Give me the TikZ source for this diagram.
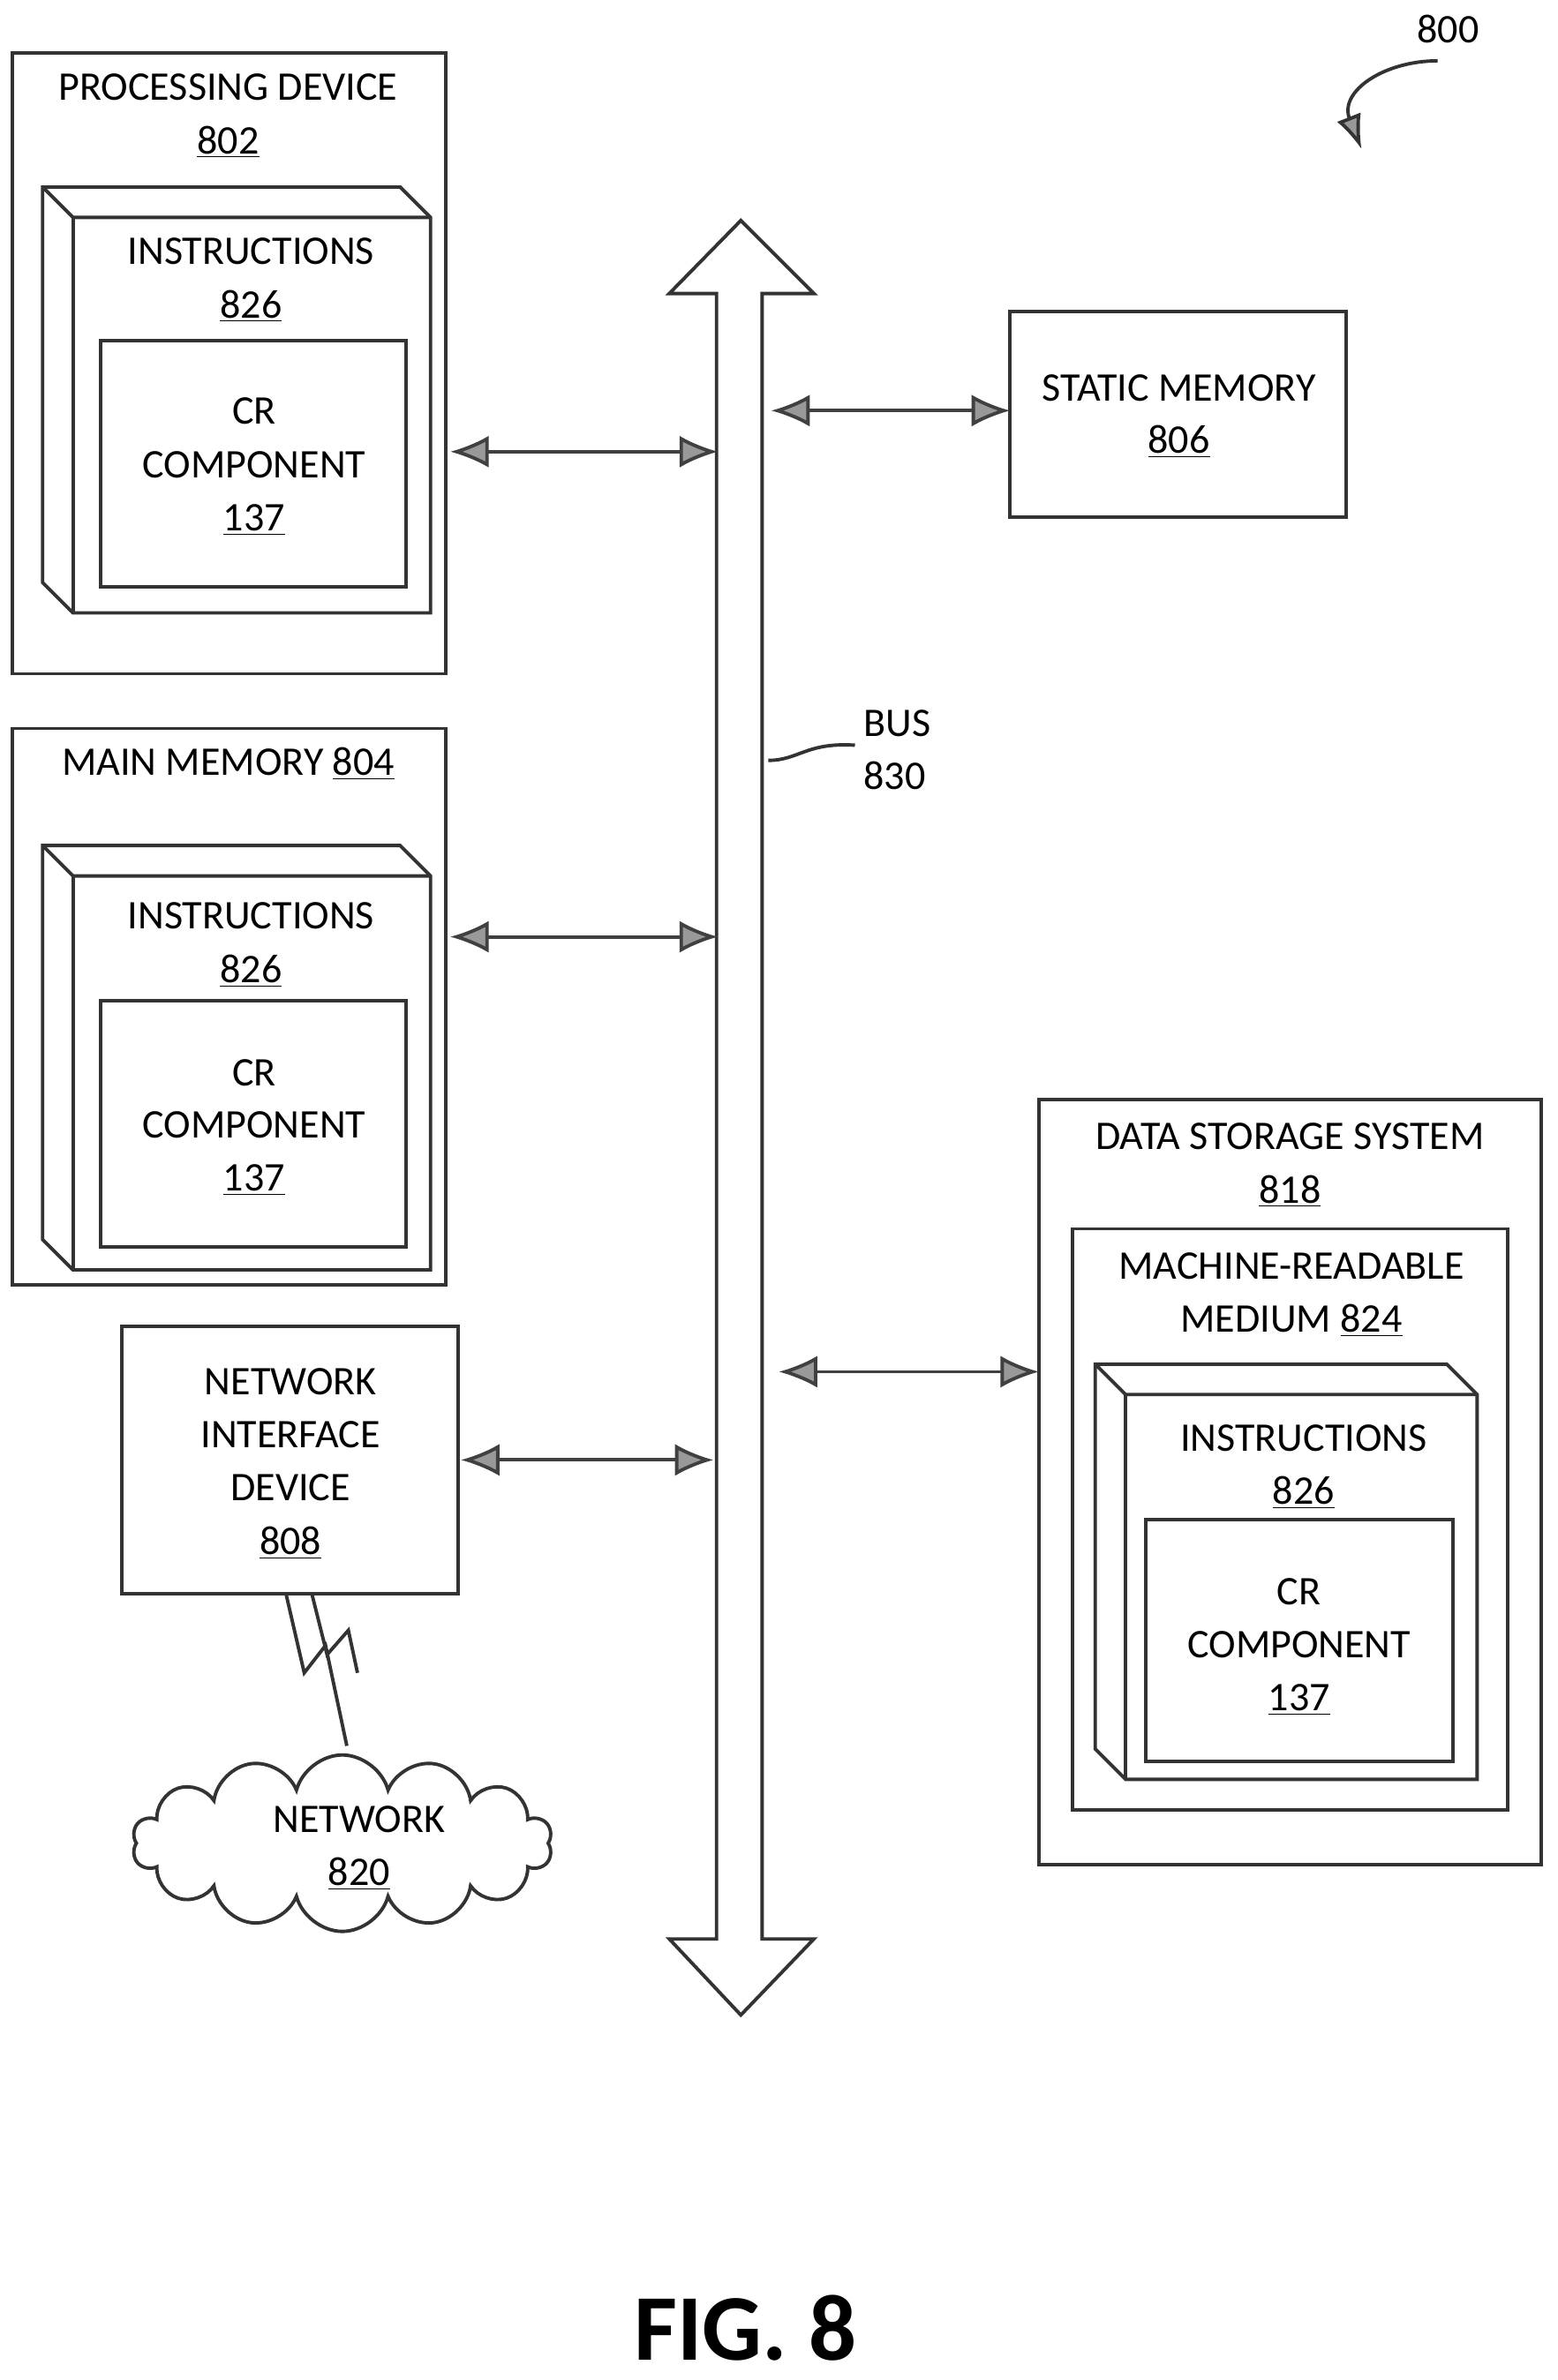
\documentclass[tikz,border=0pt]{standalone}
\usepackage{fontspec}
\setmainfont{Carlito}
\usetikzlibrary{arrows.meta,shapes.symbols}
\begin{document}
\begin{tikzpicture}[x=0.025cm,y=-0.025cm,
  box/.style={draw=black!80,line width=1.6pt},
  lbl/.style={font=\fontsize{19}{22}\selectfont,inner sep=0pt,anchor=base},
  conn/.style={line width=1.6pt,draw=black!75,{Latex[length=18pt,width=15pt,fill=black!40]}-{Latex[length=18pt,width=15pt,fill=black!40]}}]
\useasboundingbox (0,0) rectangle (1024,1565);
% processing device
\draw[box] (8,35) rectangle (293,443);
\node[lbl] (pdt) at (150,66) {PROCESSING DEVICE};
\node[lbl] (pdn) at (150,101) {\underline{802}};
\newcommand\cube[4]{% x1,y1,x2,y2 of whole
  \draw[box] (#1,#2) -- ({#3-20},#2) -- (#3,{#2+20}) -- (#3,#4) -- ({#1+20},#4) -- (#1,{#4-20}) -- cycle;
  \draw[box] (#1,#2) -- ({#1+20},{#2+20}) -- (#3,{#2+20});
  \draw[box] ({#1+20},{#2+20}) -- ({#1+20},#4);}
\cube{28}{123}{283}{403}
\node[lbl] at (165,174) {INSTRUCTIONS};
\node[lbl] at (165,209) {\underline{826}};
\draw[box] (66,224) rectangle (267,386);
\node[lbl] at (167,279) {CR};
\node[lbl] at (167,314) {COMPONENT};
\node[lbl] at (167,349) {\underline{137}};
% main memory
\draw[box] (8,479) rectangle (293,845);
\node[lbl] (mmt) at (150,510) {MAIN MEMORY \underline{804}};
\cube{28}{556}{283}{835}
\node[lbl] at (165,611) {INSTRUCTIONS};
\node[lbl] at (165,646) {\underline{826}};
\draw[box] (66,658) rectangle (267,820);
\node[lbl] at (167,714) {CR};
\node[lbl] at (167,748) {COMPONENT};
\node[lbl] at (167,783) {\underline{137}};
% network interface
\draw[box] (80,872) rectangle (301,1048);
\node[lbl] at (191,917) {NETWORK};
\node[lbl] at (191,952) {INTERFACE};
\node[lbl] at (191,987) {DEVICE};
\node[lbl] at (191,1022) {\underline{808}};
\draw[box,line join=miter] (188,1048) -- (200,1100) -- (214,1082) -- (228,1148);
\draw[box] (205,1048) -- (215,1088) -- (229,1072) -- (235,1100);
% cloud
\node[cloud,cloud puffs=14,aspect=2.4,draw=black!80,line width=1.6pt,fill=white,minimum width=6.9cm,minimum height=2.9cm] (net) at (225,1212) {};
\node[lbl] at (236,1205) {NETWORK};
\node[lbl] at (236,1240) {\underline{820}};
% bus
\draw[line width=1.6pt,draw=black!80,fill=white] (487,145) -- (535,193) -- (501,193) -- (501,1275) -- (535,1275) -- (487,1325) -- (440,1275) -- (471,1275) -- (471,193) -- (440,193) -- cycle;
\node[lbl] at (590,484) {BUS};
\node[lbl] at (588,519) {830};
\draw[line width=1.6pt,black!80] (505,500) .. controls (525,500) and (530,488) .. (562,490);
% static memory
\draw[box] (664,205) rectangle (885,340);
\node[lbl] at (775,264) {STATIC MEMORY};
\node[lbl] at (775,298) {\underline{806}};
% data storage
\draw[box] (683,723) rectangle (1013,1226);
\node[lbl] at (848,756) {DATA STORAGE SYSTEM};
\node[lbl] at (848,791) {\underline{818}};
\draw[box] (705,808) rectangle (991,1190);
\node[lbl] at (849,841) {MACHINE-READABLE};
\node[lbl] at (849,876) {MEDIUM \underline{824}};
\cube{720}{897}{971}{1170}
\node[lbl] at (857,954) {INSTRUCTIONS};
\node[lbl] at (857,989) {\underline{826}};
\draw[box] (753,999) rectangle (955,1158);
\node[lbl] at (854,1055) {CR};
\node[lbl] at (854,1090) {COMPONENT};
\node[lbl] at (854,1125) {\underline{137}};
% connectors
\coordinate (a1) at (296,297); \coordinate (b1) at (472,297);
\coordinate (a2) at (507,270); \coordinate (b2) at (664,270);
\coordinate (a3) at (296,616); \coordinate (b3) at (472,616);
\coordinate (a4) at (303,960); \coordinate (b4) at (469,960);
\coordinate (a5) at (512,902); \coordinate (b5) at (683,902);
\draw[conn] (a1) -- (b1);
\draw[conn] (a2) -- (b2);
\draw[conn] (a3) -- (b3);
\draw[conn] (a4) -- (b4);
\draw[conn] (a5) -- (b5);
% 800
\node[lbl] at (952,28) {800};
\coordinate (s1) at (945,40); \coordinate (s2) at (895,98);
\draw[line width=1.6pt,black!80,-{Latex[length=16pt,width=12pt,fill=black!40]}] (s1) .. controls (910,40) and (880,60) .. (s2);
\node[font=\bfseries\fontsize{44}{50}\selectfont,inner sep=0,anchor=base] at (490,1552) {FIG. 8};
\end{tikzpicture}
\end{document}
